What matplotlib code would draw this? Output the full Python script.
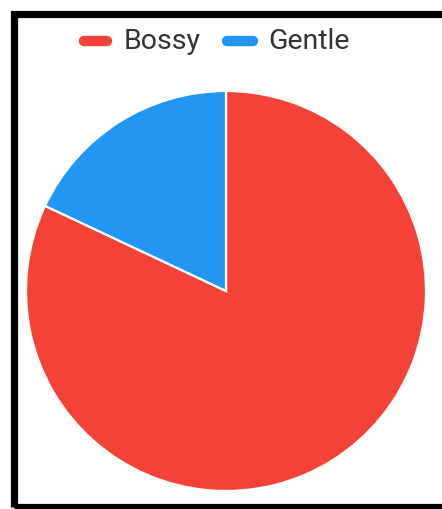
import matplotlib.pyplot as plt
from matplotlib.patches import Rectangle

labels = ['Bossy', 'Gentle']
values = [82, 18]
colors = ['#F44336', '#2196F3']

W, H = 442, 509
fig = plt.figure(figsize=(W / 100, H / 100), dpi=100)
ax = fig.add_axes([0, 0, 1, 1])

# pie, drawn clockwise from 12 o'clock
ax.pie(values, colors=colors, startangle=90, counterclock=False,
       center=(226, H - 291), radius=200, frame=True,
       wedgeprops=dict(edgecolor='white', linewidth=1.6))
ax.set_xlim(0, W)
ax.set_ylim(0, H)
ax.set_aspect('auto')
ax.axis('off')

# legend with pill markers
leg_y = H - 41
pills = [(84, 107, 124), (227, 253, 268)]
for (x0, x1, tx), lab, c in zip(pills, labels, colors):
    ax.plot([x0, x1], [leg_y, leg_y], color=c, lw=7.5, solid_capstyle='round')
    ax.text(tx, leg_y, lab, fontsize=20.5, family='Roboto', color='#333333',
            va='center', ha='left')

# black frame
ax.add_patch(Rectangle((13.5, 2), W, H - 13.5 - 2, fill=False,
                       edgecolor='black', linewidth=5.2, clip_on=False))

fig.savefig('out.png', dpi=100)
